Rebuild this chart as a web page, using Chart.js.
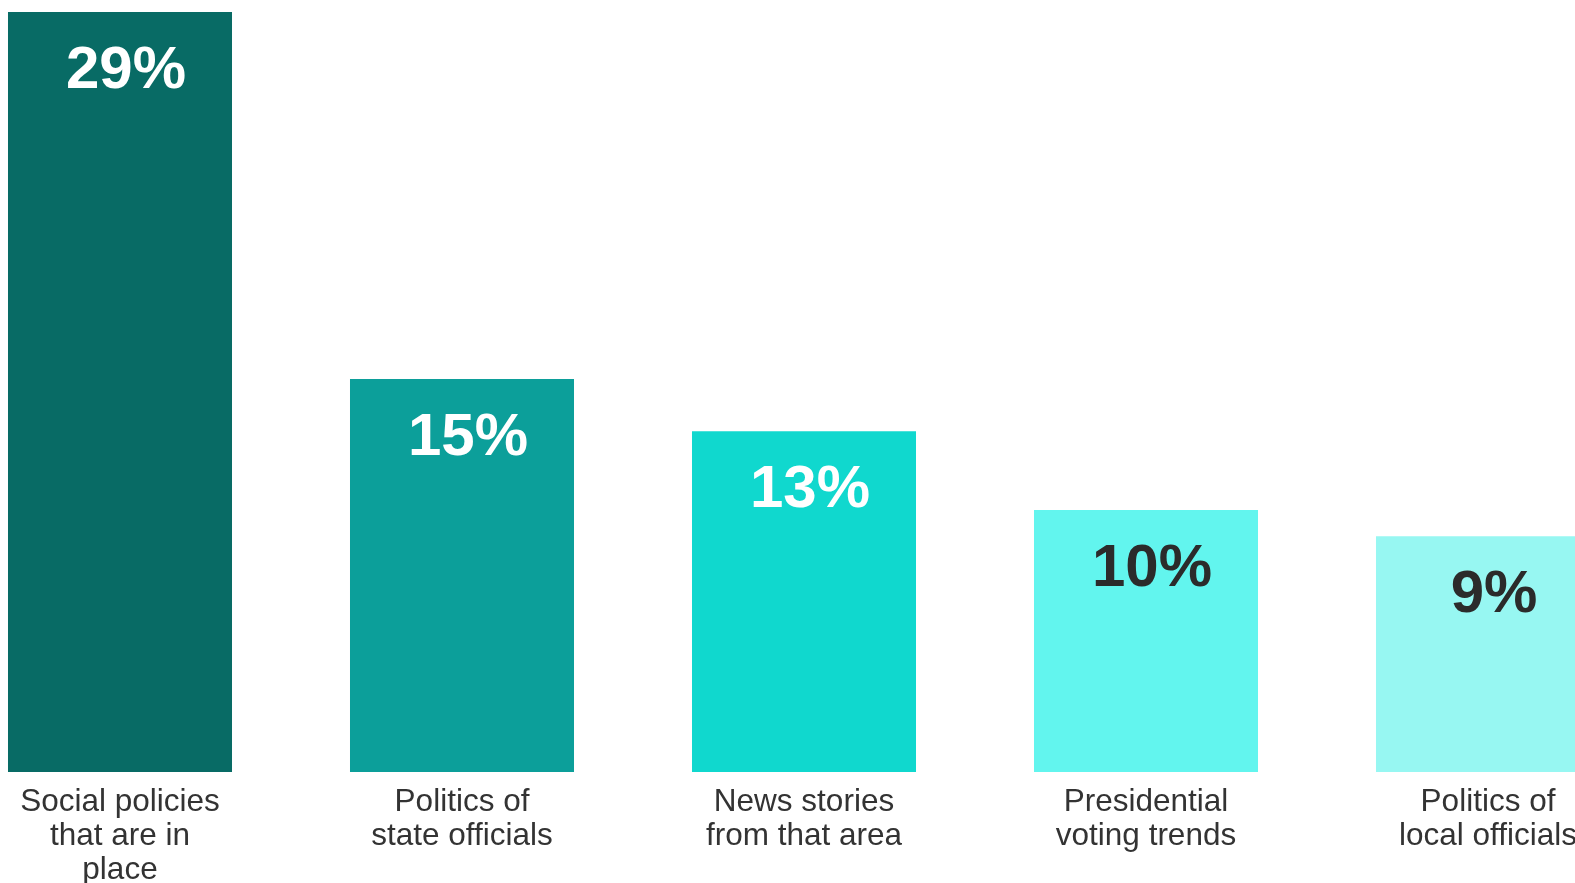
<!DOCTYPE html>
<html>
<head>
<meta charset="utf-8">
<title>Bar chart</title>
<script src="https://cdn.jsdelivr.net/npm/chart.js@4"></script>
<style>
  html, body { margin: 0; padding: 0; background: #ffffff; overflow: hidden; width: 1575px; height: 883px; }
  #wrap { position: absolute; left: -51px; top: 0; width: 1710px; height: 883px; }
  canvas { display: block; }
</style>
</head>
<body>
<div id="wrap"><canvas id="chart"></canvas></div>
<script>
// Categories (multi-line axis labels)
const categories = [
  ['Social policies', 'that are in', 'place'],
  ['Politics of', 'state officials'],
  ['News stories', 'from that area'],
  ['Presidential', 'voting trends'],
  ['Politics of', 'local officials']
];

// Share of respondents, in percent
const shares = [29, 15, 13, 10, 9];

// Bar fill, from darkest to lightest teal
const barColors = ['#086b65', '#0c9f9a', '#10d8ce', '#62f5ee', '#97f7f2'];

// Value label colour on each bar
const valueColors = ['#ffffff', '#ffffff', '#ffffff', '#2b2b2b', '#2b2b2b'];

const FONT = '"Liberation Sans", Arial, Helvetica, sans-serif';

// Writes each bar's value near its top
const valueLabels = {
  id: 'valueLabels',
  afterDatasetsDraw(chart) {
    const ctx = chart.ctx;
    const meta = chart.getDatasetMeta(0);
    const data = chart.data.datasets[0].data;
    ctx.save();
    ctx.font = 'bold 60px ' + FONT;
    ctx.textAlign = 'center';
    ctx.textBaseline = 'alphabetic';
    meta.data.forEach((bar, i) => {
      ctx.fillStyle = valueColors[i];
      ctx.fillText(data[i] + '%', bar.x + 6, bar.y + 76);
    });
    ctx.restore();
  }
};

new Chart(document.getElementById('chart'), {
  type: 'bar',
  data: {
    labels: categories,
    datasets: [{
      data: shares,
      backgroundColor: barColors,
      borderWidth: 0,
      categoryPercentage: 1,
      barPercentage: 0.655
    }]
  },
  options: {
    responsive: true,
    maintainAspectRatio: false,
    animation: false,
    layout: { padding: { top: 12, left: 0, right: 0, bottom: 0 } },
    plugins: {
      legend: { display: false },
      tooltip: { enabled: false }
    },
    scales: {
      x: {
        grid: { display: false, drawTicks: false },
        border: { display: false },
        ticks: {
          color: '#333333',
          font: { family: FONT, size: 31.5, lineHeight: 1.08 },
          padding: 13,
          maxRotation: 0,
          autoSkip: false
        },
        afterFit(scale) { scale.height = 111; }
      },
      y: {
        display: false,
        min: 0,
        max: 29
      }
    }
  },
  plugins: [valueLabels]
});
</script>
</body>
</html>
